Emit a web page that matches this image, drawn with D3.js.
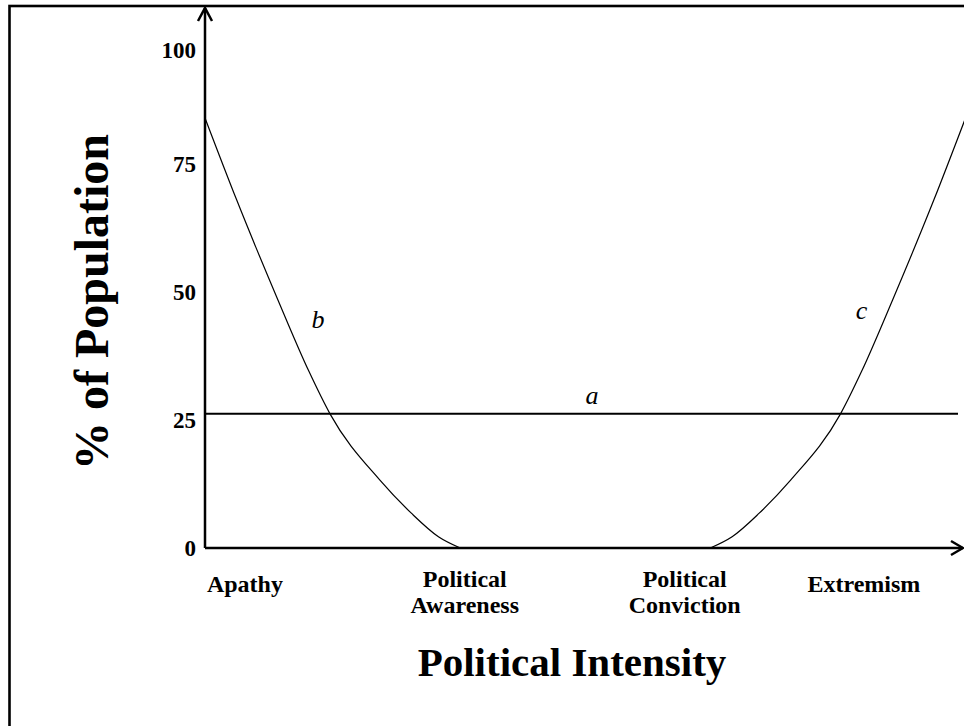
<!DOCTYPE html>
<html lang="en">
<head>
<meta charset="UTF-8">
<title>Political Intensity</title>
<style>
body { margin: 0; background: #fff; }
svg { display: block; font-family: "Liberation Serif", "Times New Roman", serif; }
.axis-line { stroke: #000; stroke-width: 2.5; fill: none; }
.curve { stroke: #000; stroke-width: 1.2; fill: none; }
.flat { stroke: #000; stroke-width: 2; fill: none; }
.tick-label { font-size: 23px; font-weight: bold; }
.cat-label { font-size: 24px; font-weight: bold; text-anchor: middle; }
.curve-label { font-size: 26px; font-style: italic; text-anchor: middle; }
</style>
</head>
<body>
<svg width="964" height="726"></svg>
<script src="https://cdnjs.cloudflare.com/ajax/libs/d3/7.8.5/d3.min.js"></script>
<script>
// y ticks (% of population)
const yTicks = [0, 25, 50, 75, 100];

// x axis categories and where they sit on the intensity scale (0-100)
const categories = [['Apathy'], ['Political', 'Awareness'], ['Political', 'Conviction'], ['Extremism']];
const categoryPos = [5.3, 34.5, 63.7, 87.5];

// curve a: flat share of population across all intensities
const aX = [0, 100];
const aY = [26.2, 26.2];

// curve b: falls from apathy to zero at awareness
const bX = [0, 4.2, 9.7, 13.8, 16.6, 23.2, 27.4, 31.0, 33.9];
const bY = [85.1, 68.0, 48.4, 34.5, 26.2, 13.3, 6.8, 2.2, 0];

// curve c: rises from conviction to extremism
const cX = [67.1, 70.0, 73.6, 77.8, 84.4, 87.2, 91.3, 96.8, 101];
const cY = [0, 2.2, 6.8, 13.3, 26.2, 34.5, 48.4, 68.0, 85.1];

// curve labels
const curveLabels = ['a', 'b', 'c'];
const curveLabelX = [51.4, 15.0, 87.2];
const curveLabelY = [28.2, 43.0, 44.8];

var svg = d3.select('svg');

var x = d3.scaleLinear().domain([0, 100]).range([205, 958]);
// the printed ticks are not quite evenly spaced, so the scale has a knee at 75
var y = d3.scaleLinear().domain([0, 75, 100]).range([548, 164, 50]);

// frame (right and bottom edges run off the page)
svg.append('rect')
    .attr('x', 9.5)
    .attr('y', 6)
    .attr('width', 1100)
    .attr('height', 900)
    .attr('fill', 'none')
    .attr('stroke', '#000')
    .attr('stroke-width', 2.6);

var x0 = x(0), y0 = y(0);
var xEnd = 963, yTop = 8;

// axis lines with open arrow heads
svg.append('path')
    .attr('class', 'axis-line')
    .attr('d', `M${x0},${y0} L${x0},${yTop}`);
svg.append('path')
    .attr('class', 'axis-line')
    .attr('d', `M${x0 - 7},${yTop + 13} L${x0},${yTop} L${x0 + 7},${yTop + 13}`);
svg.append('path')
    .attr('class', 'axis-line')
    .attr('d', `M${x0},${y0} L${xEnd},${y0}`);
svg.append('path')
    .attr('class', 'axis-line')
    .attr('d', `M${xEnd - 12},${y0 - 7} L${xEnd},${y0} L${xEnd - 12},${y0 + 7}`);

// y tick labels
let yAxis = svg.append('g')
    .attr('transform', `translate(${x0},0)`)
    .call(d3.axisLeft(y).tickValues(yTicks).tickSize(0).tickPadding(9));
yAxis.select('.domain').remove();
yAxis.attr('font-family', null).attr('font-size', null);
yAxis.selectAll('text')
    .attr('class', 'tick-label')
    .attr('fill', '#000');

// category labels under x axis
let cat = svg.append('g').selectAll('text')
    .data(categories)
    .enter().append('text')
    .attr('class', 'cat-label')
    .attr('x', (d, i) => x(categoryPos[i]))
    .attr('y', (d) => d.length > 1 ? y0 + 39 : y0 + 44);
cat.selectAll('tspan')
    .data((d) => d)
    .enter().append('tspan')
    .attr('x', function() { return this.parentNode.getAttribute('x'); })
    .attr('dy', (d, i) => i === 0 ? 0 : 26)
    .text((d) => d);

// curves
var line = d3.line()
    .x((d) => x(d[0]))
    .y((d) => y(d[1]));

svg.append('path')
    .attr('class', 'flat')
    .attr('d', line(d3.zip(aX, aY)));

var smooth = d3.line()
    .x((d) => x(d[0]))
    .y((d) => y(d[1]))
    .curve(d3.curveMonotoneX);

svg.append('path')
    .attr('class', 'curve')
    .attr('d', smooth(d3.zip(bX, bY)));

svg.append('path')
    .attr('class', 'curve')
    .attr('d', smooth(d3.zip(cX, cY)));

svg.append('g').selectAll('text')
    .data(curveLabels)
    .enter().append('text')
    .attr('class', 'curve-label')
    .attr('x', (d, i) => x(curveLabelX[i]))
    .attr('y', (d, i) => y(curveLabelY[i]))
    .text((d) => d);

// axis titles
svg.append('text')
    .attr('transform', 'translate(108,302) rotate(-90)')
    .attr('text-anchor', 'middle')
    .attr('font-size', 48)
    .attr('font-weight', 'bold')
    .text('% of Population');

svg.append('text')
    .attr('x', 572)
    .attr('y', 676)
    .attr('text-anchor', 'middle')
    .attr('font-size', 41)
    .attr('font-weight', 'bold')
    .text('Political Intensity');
</script>
</body>
</html>
